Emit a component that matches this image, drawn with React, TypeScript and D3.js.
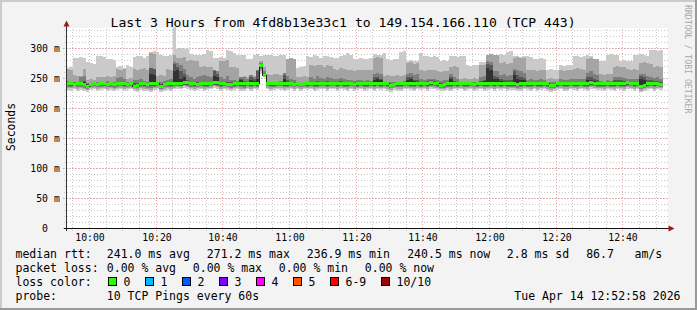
import React from "react";
import * as d3 from "d3";

// ---------------- data ----------------
const title = "Last 3 Hours from 4fd8b13e33c1 to 149.154.166.110 (TCP 443)";
const yTickValues = [0, 50, 100, 150, 200, 250, 300];
const yTickLabels = ["0", "50 m", "100 m", "150 m", "200 m", "250 m", "300 m"];
const yMinorStep = 10;
const Y_MAX = 333.333;

const START = new Date(2026, 3, 14, 9, 52, 58);
const END = new Date(2026, 3, 14, 12, 52, 58);
const FIRST_STEP = new Date(2026, 3, 14, 9, 53, 0);
const STEP_MS = 60000;

// median rtt (ms), one value per 60 s step
const medianRtt = [
  241,241,240,241,241,240,237,240,241,240,
  241,241,240,241,240,241,241,241,240,241,
  237,238,241,241,240,241,241,241,237,240,
  241,241,241,242,241,244,243,241,241,240,
  241,241,241,241,244,243,241,241,240,240,
  241,241,241,241,241,241,241,241,271.2,255,
  241,241,241,241,242,241,241,241,240,241,
  240,241,241,241,241,241,241,242,241,241,
  241,241,242,241,241,241,240,241,241,241,
  241,241,241,241,241,242,241,238,240,241,
  241,241,242.5,242,241,241,241,241,241,243,
  242,241,239,240,241,241,241,241,241,241,
  241,241,240,241,241,241,242,241,241,241,
  241,241,241,241,241,240,241,241,241,241,
  241,241,241,241,241,238,239,241,241,241,
  241,241,241,241,241,241,241,243,242,241,
  241,241,241,241,241,241,241,241,243,242,
  241,241,237,239,241,242.5,241,241,240.5,NaN,
];

// sorted pings (ms): ping1 = lowest ... ping10 = highest
const ping1 = [
  231,230,232,229,231,230,228,231,232,230,
  231,232,230,231,229,231,232,230,231,232,
  229,228,231,230,229,228,231,232,228,230,
  231,230,232,233,232,234,233,231,230,231,
  232,230,231,232,234,233,230,232,231,229,
  231,232,230,229,232,230,232,231,258,252,
  232,230,231,232,231,230,231,232,230,232,
  230,232,231,232,230,231,232,232,230,232,
  232,230,232,231,230,232,230,231,232,230,
  231,232,230,232,231,232,230,228,231,230,
  230,232,232,231,230,232,231,232,230,233,
  232,231,229,230,231,230,232,231,232,230,
  231,232,230,231,232,230,231,232,230,232,
  231,232,230,231,231,229,230,232,231,230,
  232,230,231,232,230,228,229,231,232,230,
  230,232,231,230,232,231,230,233,232,231,
  231,230,232,231,230,232,231,230,233,232,
  230,232,227,229,231,232,230,232,231,NaN,
];
const ping2 = [
  235,234,235,233,234,233,231,234,235,233,
  234,235,233,234,232,234,235,233,234,235,
  232,231,234,233,232,231,234,235,231,233,
  234,233,235,236,235,237,236,234,233,234,
  235,233,234,235,237,236,233,235,234,232,
  234,235,233,232,235,233,235,234,262,253,
  235,233,234,235,234,233,234,235,233,235,
  233,235,234,235,233,234,235,235,233,235,
  235,233,235,234,233,235,233,234,235,233,
  234,235,233,235,234,235,233,231,234,233,
  233,235,235,234,233,235,234,235,233,236,
  235,234,232,233,234,233,235,234,235,233,
  234,235,233,234,235,233,234,235,233,235,
  234,235,233,234,234,232,233,235,234,233,
  235,233,234,235,233,231,232,234,235,233,
  233,235,234,233,235,234,233,236,235,234,
  234,233,235,234,233,235,234,233,236,235,
  233,235,230,232,234,235,233,235,234,NaN,
];
const ping3 = [
  236,236,237,236,236,235,233,236,237,236,
  236,237,236,236,235,236,237,236,236,237,
  234,234,236,236,235,234,236,237,233,236,
  236,236,237,238,237,239,238,236,236,236,
  237,236,236,237,239,238,236,237,236,235,
  236,237,236,235,237,236,237,236,266,254,
  237,236,236,237,237,236,236,237,236,237,
  236,237,236,237,236,236,237,237,236,237,
  237,236,237,236,236,237,236,236,237,236,
  236,237,236,237,236,237,236,234,236,236,
  236,237,237,236,236,237,236,237,236,238,
  237,236,235,235,236,236,237,236,237,236,
  236,237,236,236,237,236,236,237,236,237,
  236,237,236,236,236,235,236,237,236,236,
  237,236,236,237,236,234,235,236,237,236,
  236,237,236,236,237,236,236,238,237,236,
  236,236,237,236,236,237,236,236,238,237,
  236,237,233,235,236,237,236,237,236,NaN,
];
const ping4 = [
  239,238,238,239,239,238,235,238,239,238,
  239,238,238,239,238,239,239,238,238,239,
  235,236,239,238,238,237,238,239,235,238,
  239,238,239,239,238,240,240,239,238,238,
  239,238,238,239,240,240,238,239,238,237,
  238,239,238,237,239,238,239,238,268,254,
  239,238,238,239,239,238,238,239,238,239,
  238,239,238,239,238,238,239,239,238,239,
  239,238,239,238,238,239,238,238,239,238,
  238,239,238,239,238,239,238,236,238,238,
  238,239,239,238,238,239,238,239,238,240,
  239,238,237,237,238,238,239,238,239,238,
  238,239,238,238,239,238,238,239,238,239,
  238,239,238,238,238,237,238,239,238,238,
  239,238,238,239,238,236,237,238,239,238,
  238,239,238,238,239,238,238,240,239,238,
  238,238,239,238,238,239,238,238,240,239,
  238,239,235,237,238,239,238,239,238,NaN,
];
const ping5 = [
  240,240,239,240,240,239,236,239,240,239,
  240,240,239,240,239,240,240,240,239,240,
  236,237,240,240,239,240,240,240,236,239,
  240,240,240,241,240,243,242,240,240,239,
  240,240,240,240,243,242,240,240,239,239,
  240,240,240,240,240,240,240,240,270,254,
  240,240,240,240,241,240,240,240,239,240,
  239,240,240,240,240,240,240,241,240,240,
  240,240,241,240,240,240,239,240,240,240,
  240,240,240,240,240,241,240,237,239,240,
  240,240,241,241,240,240,240,240,240,242,
  241,240,238,239,240,240,240,240,240,240,
  240,240,239,240,240,240,241,240,240,240,
  240,240,240,240,240,239,240,240,240,240,
  240,240,240,240,240,237,238,240,240,240,
  240,240,240,240,240,240,240,242,241,240,
  240,240,240,240,240,240,240,240,242,241,
  240,240,236,238,240,241,240,240,239,NaN,
];
const ping6 = [
  242,242,242,243,242,244,240,242,242,242,
  242,242,242,243,242,243,244,243,242,242,
  240,240,242,242,242,258,256,242,240,242,
  242,243,262,265,250,252,246,243,242,243,
  243,242,242,243,255,252,243,242,242,242,
  243,242,248,244,243,247,246,250,272,256,
  242,243,242,243,243,250,244,243,242,242,
  242,242,243,244,243,244,244,244,243,243,
  243,243,244,243,243,243,242,243,243,243,
  243,242,248,249,247,243,242,240,241,243,
  243,243,248,249,246,245,243,243,244,245,
  244,243,241,242,243,249,244,243,242,242,
  242,242,242,243,245,246,268,265,250,249,
  246,245,244,244,256,250,248,247,243,243,
  243,243,243,243,243,240,241,242,243,243,
  243,243,243,243,243,243,247,248,246,244,
  243,242,243,243,245,244,243,243,245,244,
  243,243,250,248,244,244,243,243,242,NaN,
];
const ping7 = [
  242,242,243,243,242,246,241,242,242,243,
  242,242,243,242,242,244,245,243,242,242,
  242,242,243,242,242,268,266,242,241,243,
  243,243,275,270,262,258,248,244,243,244,
  245,244,243,244,262,258,244,243,245,244,
  243,243,250,246,245,252,250,262,274,258,
  243,243,243,243,244,256,247,244,243,243,
  242,243,243,245,244,246,245,245,246,245,
  245,244,246,244,244,243,243,244,243,243,
  243,243,252,253,250,243,242,241,242,243,
  243,243,252,253,248,247,245,244,246,247,
  246,244,242,243,244,253,246,244,242,242,
  242,242,242,243,246,247,275,272,254,252,
  249,248,247,247,262,256,253,251,244,244,
  244,243,244,244,243,240,241,242,244,244,
  244,244,245,244,244,244,252,253,250,248,
  243,243,244,243,247,248,247,246,246,245,
  245,244,255,253,248,247,246,246,245,NaN,
];
const ping8 = [
  246,245,244,244,252,254,243,243,244,245,
  245,244,246,245,244,251,252,250,244,244,
  248,247,249,246,245,262,263,245,244,246,
  248,249,278,276,272,266,256,252,250,252,
  255,256,254,252,264,262,252,250,255,248,
  247,246,252,252,250,256,252,264,276,262,
  244,245,244,245,246,260,254,249,248,244,
  243,244,244,252,250,254,251,250,252,251,
  250,249,251,249,248,247,246,248,247,246,
  247,246,258,260,258,245,244,245,245,245,
  245,246,258,260,256,257,249,248,250,249,
  249,247,246,247,248,258,252,250,244,243,
  243,243,244,244,252,254,280,278,262,262,
  256,257,255,256,266,265,262,260,248,249,
  248,247,249,248,245,244,245,245,249,248,
  248,249,250,250,249,249,260,262,258,256,
  246,245,247,246,252,253,252,251,250,249,
  250,249,258,257,255,252,251,252,250,NaN,
];
const ping9 = [
  266,265,256,254,255,266,248,249,247,253,
  253,252,254,253,255,266,265,266,250,251,
  266,265,266,267,265,292,291,255,256,254,
  266,265,290,285,284,286,280,281,279,280,
  270,271,269,270,253,254,280,279,281,270,
  270,268,253,254,253,252,254,253,280,270,
  257,256,258,257,256,257,283,284,283,253,
  253,254,252,272,271,273,272,270,272,271,
  266,265,267,266,265,264,263,264,265,264,
  264,264,285,286,285,255,256,254,255,256,
  255,256,276,277,275,276,264,263,265,264,
  264,262,261,262,263,270,271,270,250,251,
  250,249,251,250,272,272,290,291,289,290,
  276,277,275,276,285,286,285,284,264,265,
  264,263,265,264,250,251,249,250,264,263,
  264,265,266,267,266,265,283,284,283,282,
  257,256,258,257,270,271,270,269,266,265,
  266,265,276,277,276,275,270,271,270,NaN,
];
const ping10 = [
  268,270,285,284,286,285,277,276,275,287,
  288,286,282,283,281,270,271,268,272,270,
  286,288,287,285,288,294,296,295,289,288,
  287,290,336,300,301,299,300,291,289,290,
  290,291,297,296,285,284,286,285,297,296,
  292,290,289,290,283,282,290,291,288,289,
  290,289,287,288,290,289,268,267,270,268,
  269,271,288,286,289,287,285,288,287,286,
  285,284,287,290,292,289,283,282,284,283,
  282,284,291,289,290,292,282,281,283,282,
  295,296,280,281,279,280,292,287,288,286,
  287,286,280,281,279,287,288,286,287,288,
  272,271,273,272,278,277,279,278,277,290,
  291,289,295,296,287,288,286,287,288,286,
  283,282,284,283,265,266,264,265,272,271,
  273,272,287,288,286,287,289,287,280,281,
  280,279,290,291,289,290,280,281,279,280,
  290,289,291,290,288,297,298,296,297,NaN,
];

const smokeColors = ["#cacaca", "#a4a4a4", "#7e7e7e", "#585858", "#323232"];

const medianLabel = "median rtt:";
const medianStats = ["241.0 ms avg", "271.2 ms max", "236.9 ms min", "240.5 ms now", "2.8 ms sd", "86.7", "am/s"];
const lossLabel = "packet loss:";
const lossStats = ["0.00 % avg", "0.00 % max", "0.00 % min", "0.00 % now"];
const lossColorLabel = "loss color:";
const lossLabels = ["0", "1", "2", "3", "4", "5", "6-9", "10/10"];
const lossColors = ["#26ff00", "#00b8ff", "#0059ff", "#7e00ff", "#ff00ff", "#ff5500", "#ff0000", "#a10000"];
const probeLabel = "probe:";
const probeText = "10 TCP Pings every 60s";
const dateText = "Tue Apr 14 12:52:58 2026";
const yAxisTitle = "Seconds";
const watermark = "RRDTOOL / TOBI OETIKER";

// ---------------- layout ----------------
const W = 697;
const H = 310;
const FONT = "'DejaVu Sans Mono', monospace";
const medianStatX = [106.8, 206.8, 306.8, 407.2, 506.8, 586.2, 634.5];
const lossStatX = [106.8, 192.8, 278.8, 364.8];
const boxX = [108.5, 145.5, 182.5, 219.5, 256.5, 293.5, 330.5, 381.5];

type Pt = { t: number; lo: number; hi: number };

export default function App() {
  const x = d3.scaleTime().domain([START, END]).range([66, 666]);
  const y = d3.scaleLinear().domain([0, Y_MAX]).range([228.5, 28.5]);
  const pings = [ping1, ping2, ping3, ping4, ping5, ping6, ping7, ping8, ping9, ping10];

  const stepPoints = (lo: number[], hi: number[]): Pt[] => {
    const pts: Pt[] = [];
    lo.forEach((v, i) => {
      const t0 = FIRST_STEP.getTime() + i * STEP_MS;
      pts.push({ t: t0, lo: v, hi: hi[i] });
      pts.push({ t: t0 + STEP_MS, lo: v, hi: hi[i] });
    });
    return pts;
  };

  const area = d3
    .area<Pt>()
    .defined((d) => !isNaN(d.lo) && !isNaN(d.hi))
    .x((d) => x(new Date(d.t)))
    .y0((d) => y(d.lo))
    .y1((d) => y(d.hi));

  const smoke = smokeColors.map((c, k) => ({
    color: c,
    d: area(stepPoints(pings[k], pings[9 - k])) || "",
  }));

  const medPts = stepPoints(medianRtt, medianRtt);
  const medLine =
    d3
      .line<Pt>()
      .defined((d) => !isNaN(d.lo))
      .x((d) => x(new Date(d.t)))
      .y((d) => y(d.lo))(medPts) || "";
  const medBand =
    d3
      .area<Pt>()
      .defined((d) => !isNaN(d.lo))
      .x((d) => x(new Date(d.t)))
      .y0((d) => y(d.lo) + 1.5)
      .y1((d) => y(d.lo) - 1.5)(medPts) || "";

  const px = (t: Date) => Math.floor(x(t)) + 0.5;
  const minorX = d3.timeMinute.every(5)!.range(START, END);
  const majorX = d3.timeMinute.every(20)!.range(START, END);
  const minorY = d3.range(0, Y_MAX, yMinorStep);
  const fmt = d3.timeFormat("%H:%M");
  const cw = 9.8 * 0.602;

  return (
    <svg
      width={W}
      height={H}
      style={{ position: "absolute", left: 0, top: 0 }}
      fontFamily={FONT}
    >
      <rect x={0} y={0} width={W} height={H} fill="#f3f3f3" />
      <rect x={0} y={0} width={W} height={2} fill="#cbcbcb" />
      <rect x={0} y={0} width={2} height={H} fill="#cbcbcb" />
      <rect x={0} y={H - 2} width={W} height={2} fill="#999999" />
      <rect x={W - 2} y={0} width={2} height={H} fill="#999999" />

      {/* canvas */}
      <rect x={66} y={28} width={602} height={201} fill="#ffffff" />

      {/* grid */}
      <g shapeRendering="crispEdges" strokeWidth={1}>
        {minorY.map((v) => (
          <line key={"hy" + v} x1={64} x2={668} y1={y(v)} y2={y(v)} stroke="#c8c8c8" strokeDasharray="1,2" />
        ))}
        {minorX.map((t) => (
          <line key={"vx" + +t} x1={px(t)} x2={px(t)} y1={28.5} y2={231} stroke="#c8c8c8" strokeDasharray="1,2" />
        ))}
        {yTickValues.map((v) => (
          <line key={"my" + v} x1={63} x2={668} y1={y(v)} y2={y(v)} stroke="#f0a0a0" strokeDasharray="1,2" />
        ))}
        {majorX.map((t) => (
          <line key={"mx" + +t} x1={px(t)} x2={px(t)} y1={28.5} y2={232} stroke="#f0a0a0" strokeDasharray="1,2" />
        ))}
      </g>

      {/* smoke */}
      <g shapeRendering="crispEdges">
        {smoke.map((s, i) => (
          <path key={i} d={s.d} fill={s.color} />
        ))}
      </g>

      {/* median */}
      <path d={medLine} fill="none" stroke="#202020" strokeWidth={1} shapeRendering="crispEdges" />
      <path d={medBand} fill={lossColors[0]} shapeRendering="crispEdges" />

      {/* axes */}
      <g shapeRendering="crispEdges">
        <line x1={66.5} x2={66.5} y1={24} y2={231} stroke="#333" />
        <line x1={64} x2={669} y1={228.5} y2={228.5} stroke="#111" />
      </g>
      <path d="M63.5,26.5 L66.5,20.5 L69.5,26.5 Z" fill="#a01818" />
      <path d="M668.5,225.5 L674.5,228.5 L668.5,231.5 Z" fill="#a01818" />

      {/* y tick labels */}
      {yTickValues.map((v, i) => (
        <text
          key={"yl" + v}
          x={v === 0 ? 59.8 - 2 * cw : 59.8}
          y={y(v) + 3.6}
          fontSize={9.8}
          textAnchor="end"
          fill="#000"
        >
          {yTickLabels[i]}
        </text>
      ))}
      {/* x tick labels */}
      {majorX.map((t) => (
        <text key={"xl" + +t} x={px(t) + 0.5} y={240.8} fontSize={9.8} textAnchor="middle" fill="#000">
          {fmt(t)}
        </text>
      ))}

      {/* titles */}
      <text x={110.5} y={26.7} fontSize={13.1} fill="#000">
        {title}
      </text>
      <text transform="translate(14.5,127) rotate(-90)" fontSize={11.4} textAnchor="middle" fill="#000">
        {yAxisTitle}
      </text>
      <text transform="translate(685,5) rotate(90)" fontSize={8.2} fill="#a8a8a8">
        {watermark}
      </text>

      {/* legend */}
      <g fontSize={11.5} fill="#000">
        <text x={15.5} y={258}>{medianLabel}</text>
        {medianStats.map((s, i) => (
          <text key={"ms" + i} x={medianStatX[i]} y={258}>{s}</text>
        ))}
        <text x={15.5} y={272}>{lossLabel}</text>
        {lossStats.map((s, i) => (
          <text key={"ls" + i} x={lossStatX[i]} y={272}>{s}</text>
        ))}
        <text x={15.5} y={285.8}>{lossColorLabel}</text>
        {lossLabels.map((s, i) => (
          <g key={"lc" + i}>
            <rect x={boxX[i]} y={277.5} width={8} height={8} fill={lossColors[i]} stroke="#000" strokeWidth={1} shapeRendering="crispEdges" />
            <text x={boxX[i] + 15} y={285.8}>{s}</text>
          </g>
        ))}
        <text x={15.5} y={299.6}>{probeLabel}</text>
        <text x={106.8} y={299.6}>{probeText}</text>
        <text x={680.5} y={299.6} textAnchor="end">{dateText}</text>
      </g>
    </svg>
  );
}
